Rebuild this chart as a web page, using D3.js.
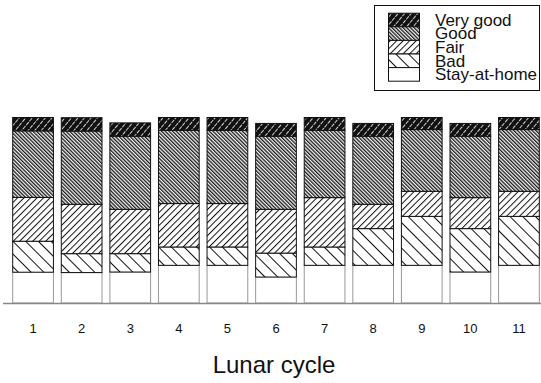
<!DOCTYPE html>
<html>
<head>
    <meta charset="utf-8">
    <script src="https://d3js.org/d3.v7.min.js"></script>
    <style>
        body { margin: 0; background: #fff; }
        text { font-family: "Liberation Sans", Arial, sans-serif; fill: #111; }
    </style>
</head>
<body>
    <svg width="541" height="383"></svg>

    <script>
        // data (percent of nights per lunar cycle)
        const cycles = ["1", "2", "3", "4", "5", "6", "7", "8", "9", "10", "11"];
        const stayAtHome = [16.6, 16.4, 16.7, 20.3, 20.3, 14.0, 20.3, 20.3, 20.3, 16.7, 20.3];
        const bad        = [16.7, 10.2,  9.9,  9.9,  9.9, 12.9,  9.9, 19.8, 26.4, 23.4, 26.4];
        const fair       = [23.6, 26.6, 23.9, 23.4, 23.4, 23.6, 26.6, 13.1, 13.5, 16.7, 13.5];
        const good       = [35.9, 39.5, 39.4, 39.5, 39.5, 39.4, 36.3, 36.7, 33.3, 33.1, 33.3];
        const veryGood   = [ 7.2,  7.2,  7.2,  6.9,  6.9,  6.9,  6.9,  6.9,  6.5,  6.9,  6.5];

        const keys = ["Stay-at-home", "Bad", "Fair", "Good", "Very good"];
        const series = [stayAtHome, bad, fair, good, veryGood];

        const svg = d3.select("svg");

        // hatch patterns
        const defs = svg.append("defs");
        function hatch(id, size, angle, bg, color, width, dash) {
            const p = defs.append("pattern")
                .attr("id", id)
                .attr("patternUnits", "userSpaceOnUse")
                .attr("width", size)
                .attr("height", size)
                .attr("patternTransform", "rotate(" + angle + ")");
            p.append("rect").attr("width", size).attr("height", size).attr("fill", bg);
            const l = p.append("line")
                .attr("x1", 0.5).attr("y1", 0).attr("x2", 0.5).attr("y2", size)
                .attr("stroke", color).attr("stroke-width", width);
            if (dash) l.attr("stroke-dasharray", dash);
        }
        hatch("vgood", 5, 40, "#111", "#d0d0d0", 1, "4,4");
        hatch("good", 2.6, -45, "#f4f4f4", "#1a1a1a", 1.6);
        hatch("fair", 4.6, 45, "#fff", "#111", 1);
        hatch("bad", 9, -45, "#fff", "#111", 1);

        const fills = {
            "Stay-at-home": "#fff",
            "Bad": "url(#bad)",
            "Fair": "url(#fair)",
            "Good": "url(#good)",
            "Very good": "url(#vgood)"
        };

        // build rows for the stack
        const table = cycles.map((c, i) => {
            const row = { cycle: c };
            keys.forEach((k, j) => row[k] = series[j][i]);
            return row;
        });
        const stacked = d3.stack().keys(keys)(table);

        const x = d3.scaleBand()
            .domain(cycles)
            .range([12.7, 539.3])
            .paddingInner(0.162)
            .paddingOuter(0);

        const y = d3.scaleLinear()
            .domain([0, 100])
            .range([303, 117.5]);

        // bars
        const layers = svg.append("g")
            .selectAll("g")
            .data(stacked)
            .join("g")
            .attr("fill", d => fills[d.key])
            .attr("stroke", d => d.key === "Stay-at-home" ? "#999" : "#111")
            .attr("stroke-width", 1);

        layers.selectAll("rect")
            .data(d => d)
            .join("rect")
            .attr("x", d => x(d.data.cycle))
            .attr("y", d => y(d[1]))
            .attr("width", x.bandwidth())
            .attr("height", d => y(d[0]) - y(d[1]));

        // baseline
        svg.append("line")
            .attr("x1", 3).attr("x2", 541)
            .attr("y1", y(0) + 0.5).attr("y2", y(0) + 0.5)
            .attr("stroke", "#888")
            .attr("stroke-width", 1.5);

        // x axis labels
        const xAxis = svg.append("g")
            .attr("transform", "translate(0," + (y(0) + 21) + ")")
            .call(d3.axisBottom(x).tickSize(0).tickPadding(0));
        xAxis.select(".domain").remove();
        xAxis.selectAll("text")
            .attr("dy", "0.71em")
            .style("font-size", "13px")
            .style("font-family", "\"Liberation Sans\", Arial, sans-serif")
            .attr("fill", "#222");

        svg.append("text")
            .attr("x", 274)
            .attr("y", 373)
            .attr("text-anchor", "middle")
            .style("font-size", "24px")
            .text("Lunar cycle");

        // legend
        const legend = svg.append("g");
        legend.append("rect")
            .attr("x", 374.5).attr("y", 5.5)
            .attr("width", 165).attr("height", 85)
            .attr("fill", "#fff")
            .attr("stroke", "#111");

        const legendKeys = keys.slice().reverse();
        const rowH = 13.6;
        const item = legend.selectAll("g.item")
            .data(legendKeys)
            .join("g")
            .attr("class", "item")
            .attr("transform", (d, i) => "translate(0," + (12.7 + i * rowH) + ")");

        item.append("rect")
            .attr("x", 388.5).attr("y", 0.5)
            .attr("width", 31).attr("height", rowH)
            .attr("fill", d => fills[d])
            .attr("stroke", "#111");

        item.append("text")
            .attr("x", 435)
            .attr("y", rowH - 0.5)
            .style("font-size", "17px")
            .text(d => d);
    </script>
</body>
</html>
